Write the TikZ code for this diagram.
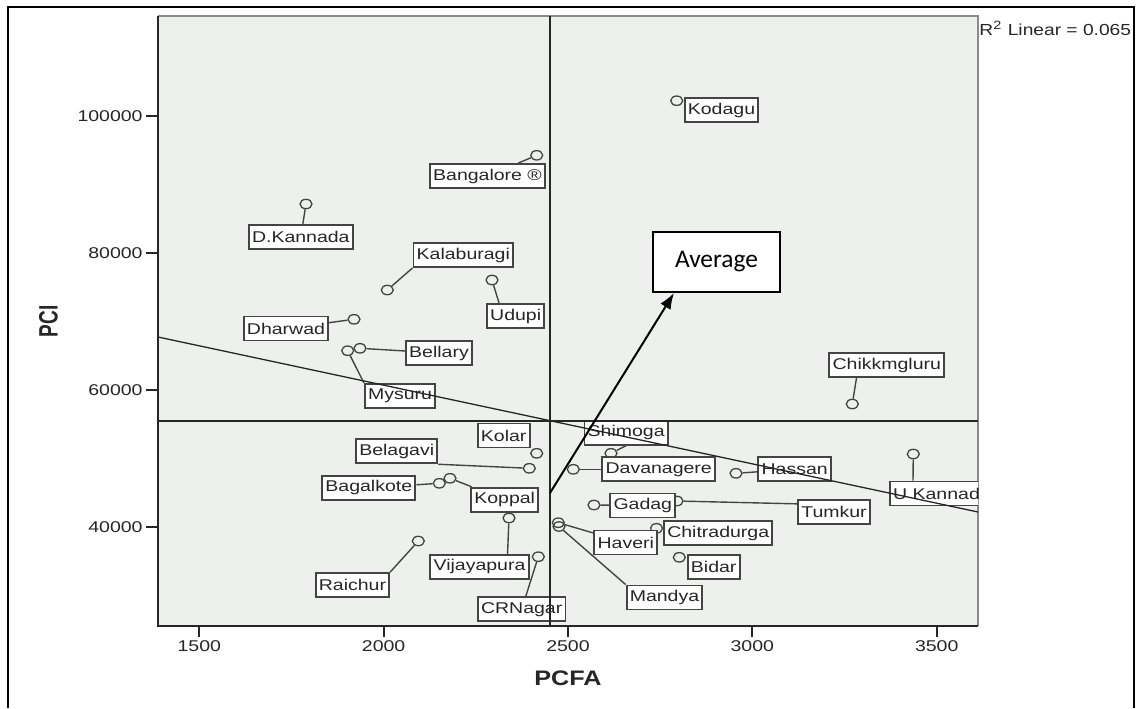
\documentclass[tikz,border=0pt]{standalone}
\usepackage{fontspec}
\usepackage{graphicx}
\setmainfont{Liberation Sans}
\newfontfamily\avgfont{Carlito}
\usetikzlibrary{shapes.geometric,arrows.meta,calc}
\definecolor{plotbg}{HTML}{EEF0EE}
\definecolor{dk}{HTML}{262626}
\definecolor{bd}{HTML}{444444}
\definecolor{frm}{HTML}{8A8A8A}
\newcommand{\lbl}[1]{\scalebox{1.25}[1]{#1}}
\begin{document}
\begin{tikzpicture}[x={(0.5pt,0)},y={(0,-0.5pt)},
  pnt/.style={ellipse, draw=bd, line width=0.65pt, minimum width=6pt, minimum height=4.7pt, inner sep=0pt},
  lab/.style={draw=bd, fill=white, line width=0.95pt, minimum height=12pt, inner xsep=1.6pt, inner ysep=0pt, text=dk, font=\fontsize{7.8}{9}\selectfont},
  conn/.style={draw=bd, line width=0.7pt},
  tick/.style={inner sep=0pt, text=dk, font=\fontsize{7.8}{9}\selectfont},
  refline/.style={draw=dk, line width=0.75pt},
  axtitle/.style={inner sep=0pt, text=dk, font=\fontsize{10.5}{12}\selectfont\bfseries}]
\useasboundingbox (0,0) rectangle (1137,708);
\fill[white] (0,0) rectangle (1137,708);
% outer frame
\draw[line width=1.4pt, black] (8,708) -- (8,7) -- (1134,7) -- (1134,708);
% plot area
\fill[plotbg] (158,15.7) rectangle (978,626);
\draw[frm, line width=1pt] (158,15.7) -- (978,15.7) -- (978,626);
\draw[dk, line width=1pt] (158,15.7) -- (158,626) -- (978,626);
% ticks
\foreach \v/\y in {100000/116, 80000/253, 60000/390, 40000/527} {
  \draw[dk, line width=0.9pt] (146,\y) -- (158,\y);
  \node[tick, anchor=east] (yt\v) at (143,\y) {\lbl{\v}};
}
\foreach \v/\x in {1500/199.3, 2000/383.6, 2500/568, 3000/752.3, 3500/936.7} {
  \draw[dk, line width=0.9pt] (\x,626) -- (\x,637);
  \node[tick] (xt\v) at (\x,646) {\lbl{\v}};
}
% axis titles
\node[axtitle] (xtitle) at (568,678) {\scalebox{1.2}[1]{PCFA}};
\node[axtitle, rotate=90, font=\fontsize{9.5}{11}\selectfont\bfseries] (ytitle) at (48.5,321.5) {\scalebox{1}[1.4]{PCI}};
% R2
\node[tick, anchor=west, font=\fontsize{8}{9}\selectfont] (rsq) at (979,28.5) {\scalebox{1.2}[1]{R\textsuperscript{2} Linear = 0.065}};

% points
\node[pnt] (pKod) at (676.7,100.7) {};
\node[pnt] (pBan) at (536.7,155.3) {};
\node[pnt] (pDKa) at (306,204) {};
\node[pnt] (pKal) at (387.3,290) {};
\node[pnt] (pUdu) at (492,280) {};
\node[pnt] (pDha) at (354,319.3) {};
\node[pnt] (pBel) at (360,348.3) {};
\node[pnt] (pMys) at (347.7,350.7) {};
\node[pnt] (pChi) at (852.3,404) {};
\node[pnt] (pKol) at (536.7,453.3) {};
\node[pnt] (pBgv) at (529.3,468.3) {};
\node[pnt] (pBag) at (439.3,483.3) {};
\node[pnt] (pKop) at (450,478.3) {};
\node[pnt] (pVij) at (509,518) {};
\node[pnt] (pRai) at (418.3,541) {};
\node[pnt] (pCRN) at (538.3,556.7) {};
\node[pnt] (pShi) at (611,453.3) {};
\node[pnt] (pDav) at (573.3,469.3) {};
\node[pnt] (pHas) at (736,473.3) {};
\node[pnt] (pUKa) at (913.3,454) {};
\node[pnt] (pTum) at (677,501) {};
\node[pnt] (pGad) at (594,505) {};
\node[pnt] (pCtd) at (656.5,528.3) {};
\node[pnt] (pHav) at (558.3,522.7) {};
\node[pnt] (pMan) at (559,526.5) {};
\node[pnt] (pBid) at (679.3,557.3) {};

% labels
\node[lab] (lKod) at (721.5,110) {\lbl{Kodagu}};
\node[lab] (lBan) at (487.5,176) {\lbl{Bangalore ®}};
\node[lab] (lDKa) at (300.8,236.7) {\lbl{D.Kannada}};
\node[lab] (lKal) at (463.3,255) {\lbl{Kalaburagi}};
\node[lab] (lUdu) at (515.7,316) {\lbl{Udupi}};
\node[lab] (lDha) at (286,328.5) {\lbl{Dharwad}};
\node[lab] (lBel) at (439,353) {\lbl{Bellary}};
\node[lab] (lMys) at (400,395.8) {\lbl{Mysuru}};
\node[lab] (lChi) at (886.8,365.2) {\lbl{Chikkmgluru}};
\node[lab] (lKol) at (503.7,435.5) {\lbl{Kolar}};
\node[lab] (lBgv) at (396.7,451.3) {\lbl{Belagavi}};
\node[lab] (lBag) at (368.8,487.8) {\lbl{Bagalkote}};
\node[lab] (lKop) at (504.7,499.7) {\lbl{Koppal}};
\node[lab] (lVij) at (479.5,566.7) {\lbl{Vijayapura}};
\node[lab] (lRai) at (352.5,585) {\lbl{Raichur}};
\node[lab] (lCRN) at (521.7,609.2) {\lbl{CRNagar}};
\node[lab] (lShi) at (626.2,432.7) {\lbl{Shimoga}};
\node[lab] (lDav) at (658.7,469.3) {\lbl{Davanagere}};
\node[lab] (lHas) at (794.7,469.2) {\lbl{Hassan}};
\node[lab] (lTum) at (834,511.8) {\lbl{Tumkur}};
\node[lab] (lGad) at (642.8,505.5) {\lbl{Gadag}};
\node[lab] (lHav) at (625.8,542.5) {\lbl{Haveri}};
\node[lab] (lCtd) at (718.2,533) {\lbl{Chitradurga}};
\node[lab] (lMan) at (664.5,597.5) {\lbl{Mandya}};
\node[lab] (lBid) at (713.7,567) {\lbl{Bidar}};
\begin{scope}
  \clip (158,15.7) rectangle (978,626);
  \node[lab, anchor=west] (lUKa) at (889,493.5) {\lbl{U Kannada}};
\end{scope}

% connectors (point node to label node)
\draw[conn] (pBan) -- (lBan);
\draw[conn] (pDKa) -- (lDKa);
\draw[conn] (pKal) -- (lKal.south west);
\draw[conn] (pUdu) -- ($(lUdu.north west)+(13,0)$);
\draw[conn] (pDha) -- (lDha);
\draw[conn] (pBel) -- (lBel);
\draw[conn] (pMys) -- (lMys.north west);
\draw[conn] (pChi) -- ($(lChi.south west)+(28,0)$);
\draw[conn] (pBgv) -- (lBgv.south east);
\draw[conn] (pBag) -- (lBag);
\draw[conn] (pKop) -- (lKop);
\draw[conn] (pVij) -- ($(lVij.north east)+(-22,0)$);
\draw[conn] (pRai) -- (lRai.north east);
\draw[conn] (pCRN) -- (lCRN);
\draw[conn] (pShi) -- (lShi.south);
\draw[conn] (pDav) -- (lDav);
\draw[conn] (pHas) -- (lHas);
\draw[conn] (pUKa) -- ($(lUKa.north west)+(24,0)$);
\draw[conn] (pTum) -- ($(lTum.north west)+(0,5)$);
\draw[conn] (pGad) -- (lGad);
\draw[conn] (pHav) -- (lHav);
\draw[conn] (pMan) -- (lMan.north west);

% reference lines
\coordinate (vTop) at (550,15.7);
\coordinate (vBot) at (550,626);
\coordinate (hL) at (158,421);
\coordinate (hR) at (978,421);
\coordinate (rL) at (158,337);
\coordinate (rR) at (978,512);
\draw[refline] (vTop) -- (vBot);
\draw[refline] (hL) -- (hR);
\draw[refline, line width=0.65pt] (rL) -- (rR);

% average
\node[draw=black, fill=white, line width=1pt, minimum width=63.5pt, minimum height=30pt, inner sep=0pt, font=\avgfont\fontsize{12.7}{14}\selectfont] (avg) at (716.5,262) {Average};
\coordinate (aS) at (550,493);
\draw[black, line width=1pt, -{Latex[length=8pt,width=6pt]}] (aS) -- ($(avg.south west)+(22,0)$);
\end{tikzpicture}
\end{document}
